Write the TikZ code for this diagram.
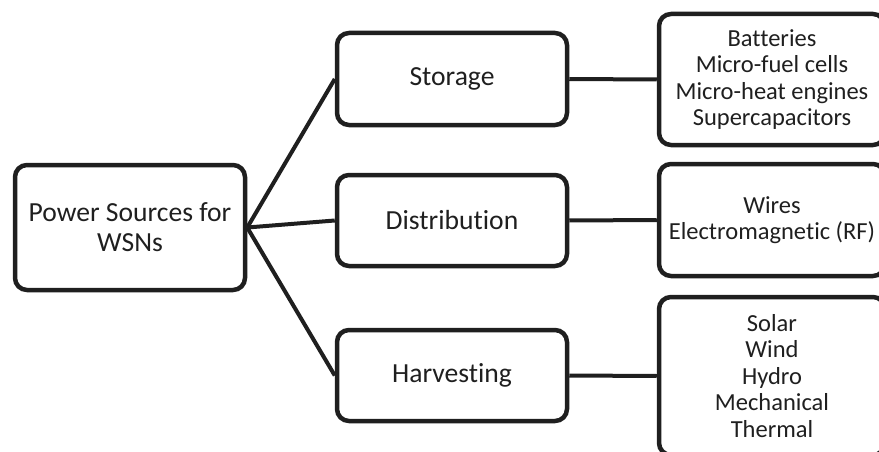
\documentclass[tikz,border=0pt]{standalone}
\usepackage{fontspec}
\setmainfont{Carlito}[Ligatures=NoCommon]
\begin{document}
\begin{tikzpicture}[x=1pt,y=-1pt,
  box/.style={draw=black!88, line width=4.5pt, rounded corners=12pt, align=center, inner sep=0pt, text=black!88},
  midtext/.style={font=\fontsize{27.6}{30}\selectfont},
  righttext/.style={font=\fontsize{24.5}{26.5}\selectfont},
  conn/.style={draw=black!88, line width=4pt}]
\useasboundingbox (0,0) rectangle (879,452);
\clip (0,0) rectangle (879,452);
\node[box, midtext, minimum width=230pt, minimum height=125pt] (src) at (130,227.5) {Power Sources for\\WSNs};
\node[box, midtext, minimum width=230pt, minimum height=92pt] (sto) at (452,79) {Storage};
\node[box, midtext, minimum width=230pt, minimum height=91pt] (dis) at (452,220.5) {Distribution};
\node[box, midtext, minimum width=230pt, minimum height=91pt] (har) at (452,375.5) {Harvesting};
\node[box, righttext, minimum width=226pt, minimum height=131pt] (r1) at (772,79.5) {Batteries\\Micro-fuel cells\\Micro-heat engines\\Supercapacitors};
\node[box, righttext, minimum width=226pt, minimum height=112pt] (r2) at (772,220) {Wires\\Electromagnetic (RF)};
\node[box, righttext, minimum width=226pt, minimum height=158pt] (r3) at (772,376) {Solar\\Wind\\Hydro\\Mechanical\\Thermal};
\draw[conn] (src.east) -- (sto.west);
\draw[conn] (src.east) -- (dis.west);
\draw[conn] (src.east) -- (har.west);
\draw[conn] (sto.east) -- (r1.west);
\draw[conn] (dis.east) -- (r2.west);
\draw[conn] (har.east) -- (r3.west);
\end{tikzpicture}
\end{document}
